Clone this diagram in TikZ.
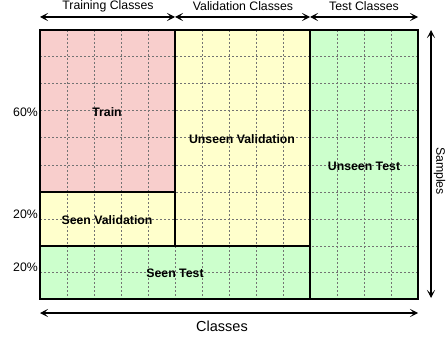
\documentclass[tikz,border=0pt]{standalone}
\usepackage{fontspec}
\setmainfont{Liberation Sans}
\usetikzlibrary{arrows.meta}
\definecolor{trainc}{HTML}{F8CECC}
\definecolor{valc}{HTML}{FFFFCC}
\definecolor{testc}{HTML}{CCFFCC}
\tikzset{
  region/.style={draw=black, line width=1.3pt},
  gridline/.style={draw=black!55, line width=1pt, dash pattern=on 2pt off 2pt},
  lbl/.style={font=\fontsize{12.3}{14}\selectfont\bfseries, inner sep=0pt},
  hdr/.style={font=\fontsize{12.3}{14}\selectfont, inner sep=0pt},
  pct/.style={font=\fontsize{12.3}{14}\selectfont, inner sep=0pt, anchor=east},
  dimarrow/.style={line width=1.2pt, {Stealth[length=8pt,width=8pt,inset=4pt]}-{Stealth[length=8pt,width=8pt,inset=4pt]}}
}
\begin{document}
\begin{tikzpicture}[x=1pt,y=-1pt]
\useasboundingbox (0,0) rectangle (446,339);
% fills
\fill[trainc] (40,30) rectangle (175,192);
\fill[valc] (40,192) rectangle (175,246);
\fill[valc] (175,30) rectangle (310,246);
\fill[testc] (40,246) rectangle (310,299);
\fill[testc] (310,30) rectangle (418,299);
% grid
\foreach \x in {67,94,121,148,175,202,229,256,283,310,337,364,391}
  \draw[gridline] (\x,30) -- (\x,299);
\foreach \y in {57,84,111,138,165,192,219,246,272}
  \draw[gridline] (40,\y) -- (418,\y);
% region borders
\draw[region] (40,30) rectangle (175,192);
\draw[region] (40,192) rectangle (175,246);
\draw[region] (175,30) rectangle (310,246);
\draw[region] (40,246) rectangle (310,299);
\draw[region] (310,30) rectangle (418,299);
% region labels
\node[lbl] (train) at (107,112) {Train};
\node[lbl] (uval) at (242,139) {Unseen Validation};
\node[lbl] (utest) at (364,166) {Unseen Test};
\node[lbl] (sval) at (107,220) {Seen Validation};
\node[lbl] (stest) at (175,273) {Seen Test};
% percentages
\node[pct] (p60) at (38,112) {60\%};
\node[pct] (p20a) at (38,214) {20\%};
\node[pct] (p20b) at (38,267) {20\%};
% top arrows
\coordinate (a0) at (40,17);
\coordinate (a1) at (175,17);
\coordinate (a2) at (310,17);
\coordinate (a3) at (418,17);
\draw[dimarrow] (a0) -- (a1);
\draw[dimarrow] (a1) -- (a2);
\draw[dimarrow] (a2) -- (a3);
\node[hdr] (htrain) at (108,6) {Training Classes};
\node[hdr] (hval) at (243,6) {Validation Classes};
\node[hdr] (htest) at (364,6) {Test Classes};
% right arrow
\coordinate (s0) at (431,30);
\coordinate (s1) at (431,298);
\draw[dimarrow] (s0) -- (s1);
\node[hdr, rotate=-90] (samples) at (439.5,171) {Samples};
% bottom arrow
\coordinate (b0) at (40,313);
\coordinate (b1) at (418,313);
\draw[dimarrow] (b0) -- (b1);
\node[font=\fontsize{14.5}{16}\selectfont, inner sep=0pt] (classes) at (222,326) {Classes};
\end{tikzpicture}
\end{document}
